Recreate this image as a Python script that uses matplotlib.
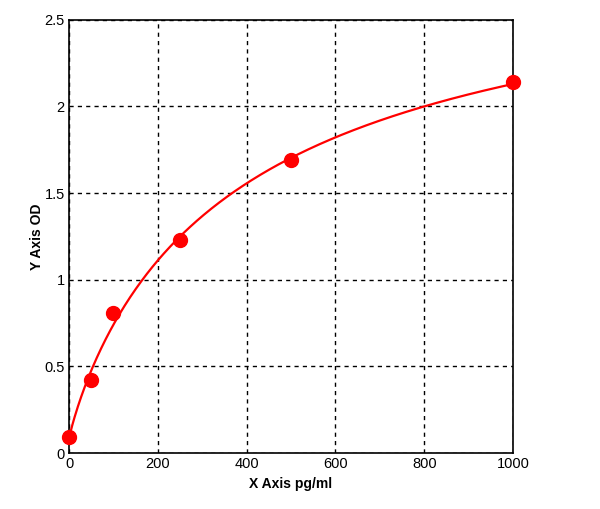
import numpy as np
import matplotlib
matplotlib.use("Agg")
import matplotlib.pyplot as plt

x_pts = [0, 50, 100, 250, 500, 1000]
y_pts = [0.09, 0.42, 0.81, 1.23, 1.69, 2.14]
x_ticks = [0, 200, 400, 600, 800, 1000]
y_ticks = [0, 0.5, 1, 1.5, 2, 2.5]
y_tick_labels = ["0", "0.5", "1", "1.5", "2", "2.5"]

# 4-parameter logistic fit via grid search (linear LS for asymptotes)
xa = np.array(x_pts, float)
ya = np.array(y_pts, float)
best = None
for c in np.linspace(50, 5000, 400):
    for b in np.linspace(0.5, 2.0, 61):
        g = 1.0 / (1.0 + (xa / c) ** b)
        A = np.vstack([g, 1 - g]).T
        coef, *_ = np.linalg.lstsq(A, ya, rcond=None)
        r = np.sum((A @ coef - ya) ** 2)
        if best is None or r < best[0]:
            best = (r, c, b, coef)
_, c, b, (a, d) = best
xf = np.linspace(0, 1000, 400)
gf = 1.0 / (1.0 + (xf / c) ** b)
yf = a * gf + d * (1 - gf)

plt.rcParams['font.family'] = ['Liberation Sans', 'DejaVu Sans']
fig = plt.figure(figsize=(6.0, 5.09), dpi=100)
ax = fig.add_axes([0.115, 0.110, 0.740, 0.851])
ax.plot(xf, yf, color='#ff0000', lw=1.6, zorder=3)
ax.plot(x_pts, y_pts, 'o', color='#ff0000', ms=10, zorder=4, clip_on=False)
ax.set_xlim(0, 1000)
ax.set_ylim(0, 2.5)
ax.set_xticks(x_ticks)
ax.set_yticks(y_ticks)
ax.set_yticklabels(y_tick_labels)
ax.tick_params(length=0, labelsize=10.5, pad=3)
ax.grid(True, color='black', linestyle=(0, (3, 3)), linewidth=1.0)
for s in ax.spines.values():
    s.set_linewidth(1.2)
ax.set_xlabel("X Axis pg/ml", fontsize=10, fontweight='bold', labelpad=4)
ax.set_ylabel("Y Axis OD", fontsize=10, fontweight='bold', labelpad=0)
fig.savefig("out.png", dpi=100)
